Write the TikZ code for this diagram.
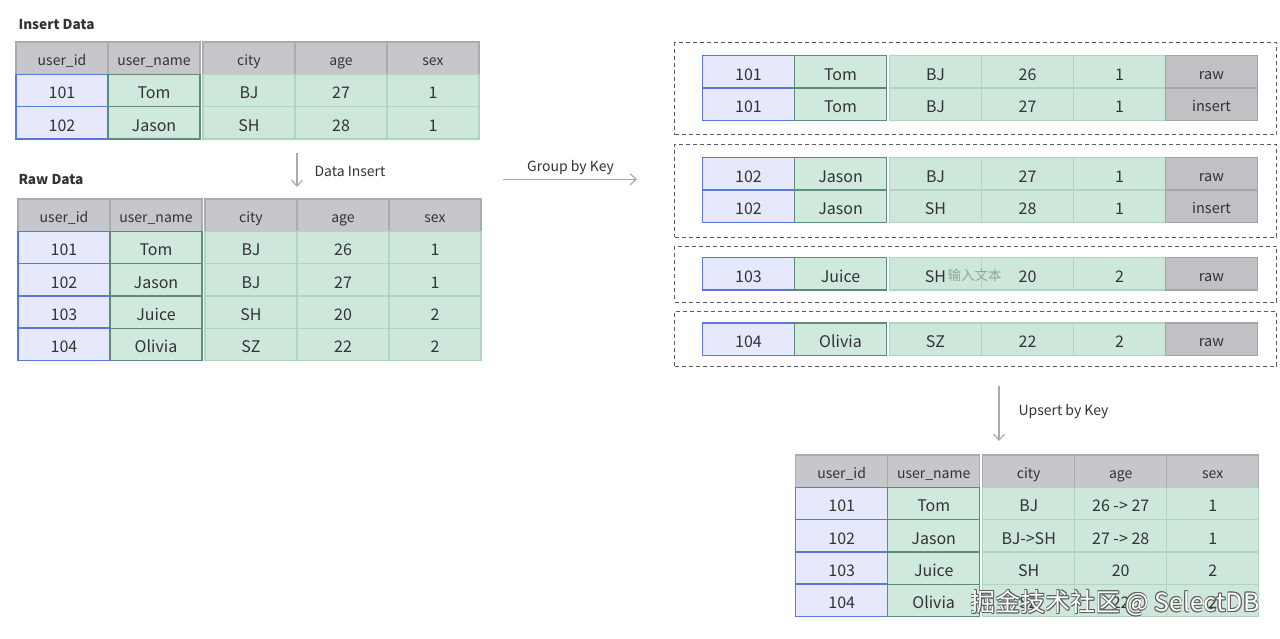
\documentclass[tikz,border=0pt]{standalone}
\usepackage{fontspec}
\setmainfont{Noto Sans CJK SC}
\usetikzlibrary{arrows.meta,positioning}
\definecolor{ink}{RGB}{51,51,51}
\definecolor{headfill}{RGB}{198,199,203}
\definecolor{headline}{RGB}{169,171,175}
\definecolor{keyfill}{RGB}{229,233,251}
\definecolor{keyline}{RGB}{92,118,217}
\definecolor{namefill}{RGB}{207,233,220}
\definecolor{nameline}{RGB}{95,139,122}
\definecolor{valfill}{RGB}{205,232,218}
\definecolor{valline}{RGB}{176,212,194}
\definecolor{tagfill}{RGB}{192,193,197}
\definecolor{tagline}{RGB}{163,165,169}
\definecolor{boxline}{RGB}{90,90,90}
\definecolor{arrowgray}{RGB}{170,170,170}
\definecolor{ghosttext}{RGB}{140,165,152}
\definecolor{wmedge}{RGB}{95,95,95}
\tikzset{
  every picture/.style={color=ink, line width=1pt},
  cell/.style={draw, minimum width=92pt, minimum height=32.3pt, inner sep=0pt, outer sep=0pt, text=ink,
    text height=17pt, text depth=0pt, font=\fontsize{16}{18}\selectfont},
  headcell/.style={cell, fill=headfill, draw=headline, line width=1.2pt, text height=15.4pt, font=\fontsize{14}{16}\selectfont},
  keycell/.style={cell, fill=keyfill, draw=keyline, line width=1.5pt},
  namecell/.style={cell, fill=namefill, draw=nameline, line width=1.3pt},
  valcell/.style={cell, fill=valfill, draw=valline, line width=1.2pt},
  tagcell/.style={cell, fill=tagfill, draw=tagline, line width=1.2pt, text height=14.5pt, font=\fontsize{14.5}{16}\selectfont},
  grpbox/.style={draw=boxline, dash pattern=on 4pt off 3pt, line width=1pt, anchor=north west, minimum width=602pt, inner sep=0pt},
  flow/.style={-{Straight Barb[length=6pt,width=11pt,line width=1.2pt]}, draw=arrowgray, line width=1.2pt},
  lbl/.style={font=\fontsize{14}{16}\selectfont, text=ink, inner sep=0pt},
  title/.style={font=\bfseries\fontsize{13.6}{16}\selectfont, text=ink, inner sep=0pt, anchor=base west},
  wmark/.style={font=\fontsize{25}{27}\selectfont, inner sep=0pt, anchor=east},
}
% one table row: name, x, y, id, user name, city, age, sex
\newcommand{\cellrow}[8]{%
  \node[keycell, anchor=north west] (#1-id) at (#2,{#3}) {#4};
  \node[namecell, right=0pt of #1-id] (#1-nm) {#5};
  \node[valcell, right=3pt of #1-nm] (#1-ct) {#6};
  \node[valcell, right=0pt of #1-ct] (#1-ag) {#7};
  \node[valcell, right=0pt of #1-ag] (#1-sx) {#8};
}
\newcommand{\headrow}[3]{%
  \node[headcell, anchor=north west] (#1-id) at (#2,#3) {user\_id};
  \node[headcell, right=0pt of #1-id] (#1-nm) {user\_name};
  \node[headcell, right=3pt of #1-nm] (#1-ct) {city};
  \node[headcell, right=0pt of #1-ct] (#1-ag) {age};
  \node[headcell, right=0pt of #1-ag] (#1-sx) {sex};
}
\begin{document}
\begin{tikzpicture}[x=1pt, y=-1pt]
  \useasboundingbox[fill=white] (0,0) rectangle (1280,638);

  % insert data
  \node[title] (ins-title) at (18,29.3) {Insert Data};
  \headrow{ins-h}{16}{42}
  \foreach [count=\i] \id/\un/\ct/\ag/\sx in {101/Tom/BJ/27/1, 102/Jason/SH/28/1}
    {\cellrow{ins-\i}{16}{74.3+32.3*(\i-1)}{\id}{\un}{\ct}{\ag}{\sx}}

  \coordinate (di-a) at (297,153); \coordinate (di-b) at (297,187);
  \draw[flow] (di-a) -- (di-b);
  \node[lbl, anchor=base west] (di-lbl) at (314,176) {Data Insert};

  % raw data
  \node[title] (raw-title) at (18,184.3) {Raw Data};
  \headrow{raw-h}{18}{199}
  \foreach [count=\i] \id/\un/\ct/\ag/\sx in {101/Tom/BJ/26/1, 102/Jason/BJ/27/1, 103/Juice/SH/20/2, 104/Olivia/SZ/22/2}
    {\cellrow{raw-\i}{18}{231.3+32.3*(\i-1)}{\id}{\un}{\ct}{\ag}{\sx}}

  % group by key
  \coordinate (gk-a) at (503,179.3); \coordinate (gk-b) at (637,179.3);
  \draw[flow] (gk-a) -- (gk-b);
  \node[lbl, anchor=base] (gk-lbl) at (570.5,171) {Group by Key};

  \node[grpbox, minimum height=92pt] (grp-a) at (674,42) {};
  \cellrow{ga-1}{702.5}{55.7}{101}{Tom}{BJ}{26}{1}
  \node[tagcell, right=0pt of ga-1-sx] (ga-1-tg) {raw};
  \cellrow{ga-2}{702.5}{88.2}{101}{Tom}{BJ}{27}{1}
  \node[tagcell, right=0pt of ga-2-sx] (ga-2-tg) {insert};

  \node[grpbox, minimum height=92.7pt] (grp-b) at (674,144) {};
  \cellrow{gb-1}{702.5}{157.7}{102}{Jason}{BJ}{27}{1}
  \node[tagcell, right=0pt of gb-1-sx] (gb-1-tg) {raw};
  \cellrow{gb-2}{702.5}{190.2}{102}{Jason}{SH}{28}{1}
  \node[tagcell, right=0pt of gb-2-sx] (gb-2-tg) {insert};

  \node[grpbox, minimum height=56pt] (grp-c) at (674,245.7) {};
  \cellrow{gc-1}{702.5}{257.7}{103}{Juice}{SH}{20}{2}
  \node[tagcell, right=0pt of gc-1-sx] (gc-1-tg) {raw};
  \node[anchor=west, inner sep=0pt, text=ghosttext, font=\fontsize{13.5}{15}\selectfont] (gc-hint) at (947,275) {输入文本};

  \node[grpbox, minimum height=54.5pt] (grp-d) at (674,311) {};
  \cellrow{gd-1}{702.5}{323}{104}{Olivia}{SZ}{22}{2}
  \node[tagcell, right=0pt of gd-1-sx] (gd-1-tg) {raw};

  % upsert by key
  \coordinate (uk-a) at (999,386); \coordinate (uk-b) at (999,441);
  \draw[flow] (uk-a) -- (uk-b);
  \node[lbl, anchor=base west] (uk-lbl) at (1018,415) {Upsert by Key};

  \headrow{fin-h}{795.7}{455}
  \foreach [count=\i] \id/\un/\ct/\ag/\sx in {101/Tom/BJ/26 -> 27/1, 102/Jason/BJ->SH/27 -> 28/1, 103/Juice/SH/20/2, 104/Olivia/SZ/22/2}
    {\cellrow{fin-\i}{795.7}{487.3+32.3*(\i-1)}{\id}{\un}{\ct}{\ag}{\sx}}

  % watermark
  \foreach [count=\k] \dx/\dy in {0.8/0, -0.8/0, 0/0.8, 0/-0.8, 0.6/0.6, -0.6/0.6, 0.6/-0.6, -0.6/-0.6}
    {\node[wmark, text=wmedge] (wm\k) at (1260+\dx,603+\dy) {掘金技术社区\,@ SelectDB};}
  \node[wmark, text=white] (wm) at (1260,603) {掘金技术社区\,@ SelectDB};
\end{tikzpicture}
\end{document}
